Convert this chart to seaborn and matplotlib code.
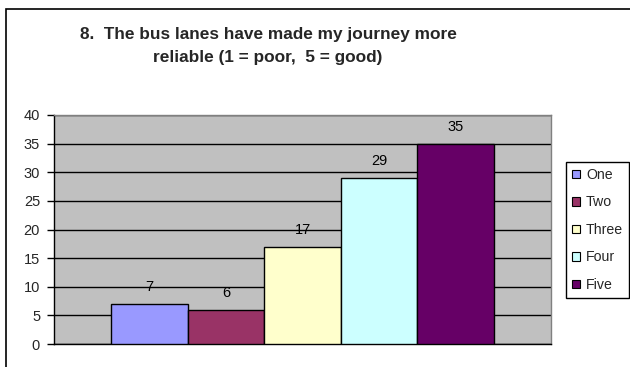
import matplotlib
matplotlib.use("Agg")
import matplotlib.pyplot as plt
from matplotlib.patches import Rectangle
import seaborn as sns
import pandas as pd

# ---- data ----
categories = ["One", "Two", "Three", "Four", "Five"]
values = [7, 6, 17, 29, 35]
colors = ["#9999FF", "#993366", "#FFFFCC", "#CCFFFF", "#660066"]
yticks = [0, 5, 10, 15, 20, 25, 30, 35, 40]
title = "8.  The bus lanes have made my journey more\nreliable (1 = poor,  5 = good)"
caption = "Figure 8  Focus group responses on journey reliability"

sns.set_theme(style="white")
plt.rcParams["font.family"] = ["Liberation Sans", "DejaVu Sans"]

W, H = 630, 367
fig = plt.figure(figsize=(W / 100, H / 100), dpi=100)
fig.patch.set_facecolor("white")

# outer chart frame (extends beyond the right/bottom edge)
fig.patches.append(Rectangle((6 / W, -0.2), 1.0, 1 - 8.5 / H + 0.2,
                             transform=fig.transFigure, fill=False,
                             edgecolor="black", lw=1.2))

# clipped document caption at the very top (only descenders visible)
fig.text(24 / W, 1 + 3 / H, caption, fontsize=10, fontweight="bold",
         va="baseline", ha="left", color="black")

ax = fig.add_axes([54 / W, 1 - 344 / H, (551 - 54) / W, (344 - 115) / H])
ax.set_facecolor("#C0C0C0")

df = pd.DataFrame({"group": [""] * len(values), "rating": categories, "count": values})
sns.barplot(data=df, x="group", y="count", hue="rating", hue_order=categories,
            palette=colors, width=0.77, saturation=1, edgecolor="black",
            linewidth=1, ax=ax, legend=True, zorder=3)

ax.set_xlim(-0.5, 0.5)
ax.set_ylim(0, 40)
ax.set_yticks(yticks)
ax.set_xticks([])
ax.set_xlabel("")
ax.set_ylabel("")
ax.yaxis.grid(True, color="black", lw=1, zorder=0)
ax.set_axisbelow(True)
ax.tick_params(axis="y", direction="out", length=5, width=1, color="black",
               labelsize=10.5, pad=5, left=True)
for s in ["top", "right"]:
    ax.spines[s].set_color("#808080")
    ax.spines[s].set_linewidth(1)
for s in ["left", "bottom"]:
    ax.spines[s].set_color("black")
    ax.spines[s].set_linewidth(1)

for cont in ax.containers:
    ax.bar_label(cont, padding=7, fontsize=10.5, color="black")

handles, labels = ax.get_legend_handles_labels()
leg = ax.legend(handles, labels, loc="upper left",
                bbox_to_anchor=(566 / W, 1 - 162 / H), bbox_transform=fig.transFigure,
                borderaxespad=0, frameon=True, fancybox=False, edgecolor="black",
                framealpha=1, fontsize=10.2, handlelength=0.55, handleheight=0.55,
                handletextpad=0.45, labelspacing=0.95, borderpad=0.42)
leg.get_frame().set_linewidth(1)
for h in leg.legend_handles:
    h.set_edgecolor("black")
    h.set_linewidth(0.8)

fig.text(268 / W, 1 - 26.5 / H, title, fontsize=12.4, fontweight="bold",
         ha="center", va="top", linespacing=1.7, multialignment="center")

fig.savefig("out.png", dpi=100)
